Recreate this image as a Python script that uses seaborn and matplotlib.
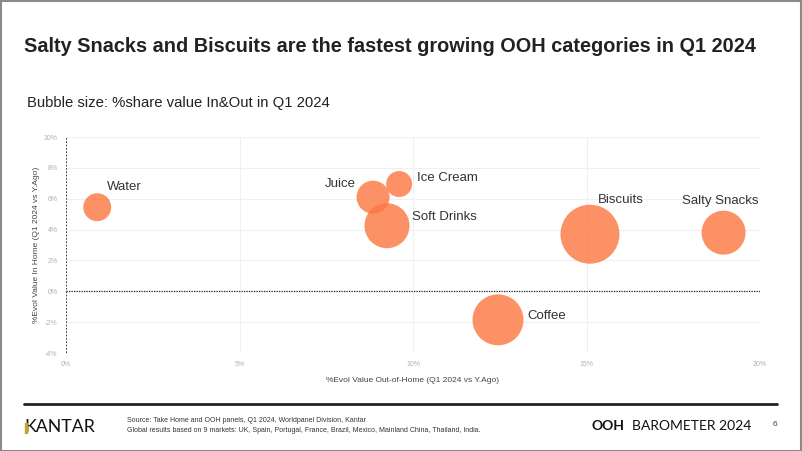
import matplotlib
matplotlib.use("Agg")
import matplotlib.pyplot as plt
import seaborn as sns
import pandas as pd
from matplotlib.patches import Rectangle

# ---- data ----
categories = ["Water", "Juice", "Ice Cream", "Soft Drinks", "Biscuits", "Salty Snacks", "Coffee"]
ooh_evol = [0.9, 8.85, 9.6, 9.25, 15.1, 18.95, 12.45]       # % evol value Out-of-Home
ih_evol = [5.45, 6.1, 6.95, 4.25, 3.7, 3.8, -1.85]           # % evol value In Home
share = [3.0, 4.2, 2.6, 7.8, 13.4, 7.45, 10.0]                # % share value In&Out
x_ticks = [0, 5, 10, 15, 20]
y_ticks = [-4, -2, 0, 2, 4, 6, 8, 10]

df = pd.DataFrame({"cat": categories, "x": ooh_evol, "y": ih_evol, "share": share})

# label offsets in pixels (style)
label_style = {
    "Water": (10, 20, "left"),
    "Juice": (-17, 13, "right"),
    "Ice Cream": (18, 6, "left"),
    "Soft Drinks": (25, 9, "left"),
    "Biscuits": (8, 34, "left"),
    "Salty Snacks": (-3, 32, "center"),
    "Coffee": (29, 4, "left"),
}

sns.set_style("white")
plt.rcParams["font.family"] = ["Liberation Sans", "DejaVu Sans"]

fig = plt.figure(figsize=(8.02, 4.51), dpi=100)
W, H = 802, 451
ax = fig.add_axes([66 / W, 1 - 353 / H, (760 - 66) / W, (353 - 137) / H])

smax = (59 * 0.72) ** 2
sns.scatterplot(data=df, x="x", y="y", size="share", sizes=(0, smax),
                size_norm=(0, max(share)), color="#FC7640", alpha=0.8,
                edgecolor="none", legend=False, ax=ax, zorder=3)

for c, xv, yv in zip(categories, ooh_evol, ih_evol):
    dx, dy, ha = label_style[c]
    ax.annotate(c, (xv, yv), xytext=(dx, dy), textcoords="offset pixels",
                ha=ha, va="center", fontsize=9.5, color="#333333", zorder=4)

ax.set_xlim(0, 20)
ax.set_ylim(-4, 10)
ax.set_xticks(x_ticks)
ax.set_xticklabels([f"{t}%" for t in x_ticks])
ax.set_yticks(y_ticks)
ax.set_yticklabels([f"{t}%" for t in y_ticks])
ax.tick_params(axis="both", labelsize=5, colors="#b0b0b0", length=0, pad=6)
ax.grid(True, color="#f0f0f0", linewidth=0.8, zorder=0)
for s in ax.spines.values():
    s.set_visible(False)
ax.axhline(0, color="#222222", linestyle=(0, (1, 1)), linewidth=0.9, zorder=2)
ax.axvline(0, color="#222222", linestyle=(0, (1, 1)), linewidth=1.2, zorder=2)
ax.set_xlabel("%Evol Value Out-of-Home (Q1 2024 vs Y.Ago)", fontsize=6, color="#444444", labelpad=6)
ax.set_ylabel("%Evol Value In Home (Q1 2024 vs Y.Ago)", fontsize=6, color="#444444", labelpad=3)

# title and subtitle
fig.text(24 / W, 1 - 46 / H, "Salty Snacks and Biscuits are the fastest growing OOH categories in Q1 2024",
         fontsize=14.3, fontweight="bold", color="#222222", va="center", ha="left")
fig.text(27 / W, 1 - 103 / H, "Bubble size: %share value In&Out in Q1 2024",
         fontsize=10.7, color="#222222", va="center", ha="left")

# footer
fig.add_artist(plt.Line2D([24 / W, 777 / W], [1 - 404 / H, 1 - 404 / H], color="#222222", linewidth=2))
fig.text(24 / W, 1 - 427 / H, "KANTAR", fontsize=12.8, color="#111111", va="center", ha="left",
         family=["Lato", "DejaVu Sans"])
fig.add_artist(Rectangle((25 / W, 1 - 433 / H), 2.0 / W, 10.5 / H, color="#C9A227",
                         transform=fig.transFigure, zorder=10))
fig.text(127 / W, 1 - 421 / H, "Source: Take Home and OOH panels, Q1 2024, Worldpanel Division, Kantar",
         fontsize=5, color="#333333", va="center", ha="left")
fig.text(127 / W, 1 - 430 / H,
         "Global results based on 9 markets: UK, Spain, Portugal, France, Brazil, Mexico, Mainland China, Thailand, India.",
         fontsize=5, color="#333333", va="center", ha="left")
fig.text(592 / W, 1 - 426.5 / H, "OOH", fontsize=10, fontweight="bold", color="#111111", va="center", ha="left",
         family=["Lato", "DejaVu Sans"])
fig.text(632 / W, 1 - 426.5 / H, "BAROMETER 2024", fontsize=10, color="#111111", va="center", ha="left",
         family=["Lato", "DejaVu Sans"])
fig.text(775 / W, 1 - 425 / H, "6", fontsize=6, color="#444444", va="center", ha="center")

# outer frame
fig.add_artist(Rectangle((0.5 / W, 0.5 / H), 1 - 1.5 / W, 1 - 1.5 / H, fill=False, edgecolor="#8a8a8a",
                         linewidth=1.5, transform=fig.transFigure))

fig.savefig("out.png", dpi=100)
